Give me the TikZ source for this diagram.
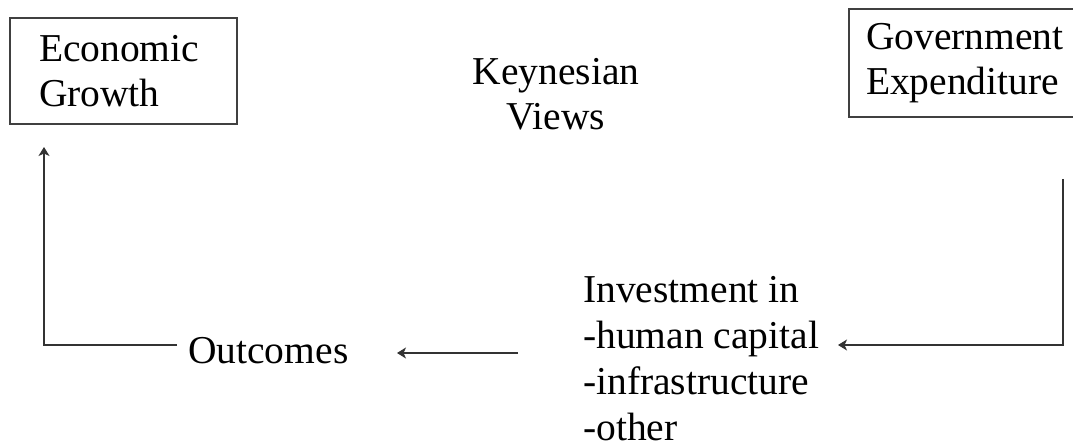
\documentclass[tikz,border=0pt]{standalone}
\usepackage{fontspec}
\setmainfont{Liberation Serif}
\usetikzlibrary{arrows.meta}
\newcommand\keynestextstyle{\fontsize{39.5}{45.7}\selectfont}
\newcommand\keyneslinewidth{1.4pt}
\tikzset{
  keynesbox/.style={draw=black!75, line width=1.5pt, inner sep=0pt, align=left, font=\keynestextstyle},
  keynestext/.style={inner sep=0pt, font=\keynestextstyle},
  keynesline/.style={draw=black!80, line width=\keyneslinewidth},
  keynesflow/.style={keynesline, -{Stealth[length=9pt, width=11pt, inset=2.5pt]}}
}

\begin{document}
\begin{tikzpicture}[x=1pt, y=-1pt]
    \useasboundingbox (0,0) rectangle (1073,446);
    \clip (0,0) rectangle (1073,446);
    \node (growth) [keynesbox, minimum width=227pt, minimum height=106pt, text width=169pt] at (123.5,71) {Economic\\Growth};
    \node (govexp) [keynesbox, minimum width=238pt, minimum height=108pt, text width=204pt] at (968,63) {Government\\Expenditure};
    \node (keynes) [keynestext, anchor=base, align=center] at (556,130) {Keynesian\\Views};
    \node (outcomes) [keynestext, anchor=base west] at (188,363) {Outcomes};
    \node (invest) [keynestext, anchor=base west, align=left] at (583,440) {Investment in\\-human capital\\-infrastructure\\-other};
    \coordinate (govdrop) at (1063,179);
    \coordinate (govturn) at (1063,345);
    \coordinate (investin) at (838,345);
    \coordinate (investout) at (518,353);
    \coordinate (outcomesin) at (397,353);
    \coordinate (outcomesout) at (177,345);
    \coordinate (growthturn) at (44,345);
    \coordinate (growthin) at (44,147);
    \draw [keynesflow] (govdrop) -- (govturn) -- (investin);
    \draw [keynesflow] (investout) -- (outcomesin);
    \draw [keynesflow] (outcomesout) -- (growthturn) -- (growthin);
\end{tikzpicture}
\end{document}
